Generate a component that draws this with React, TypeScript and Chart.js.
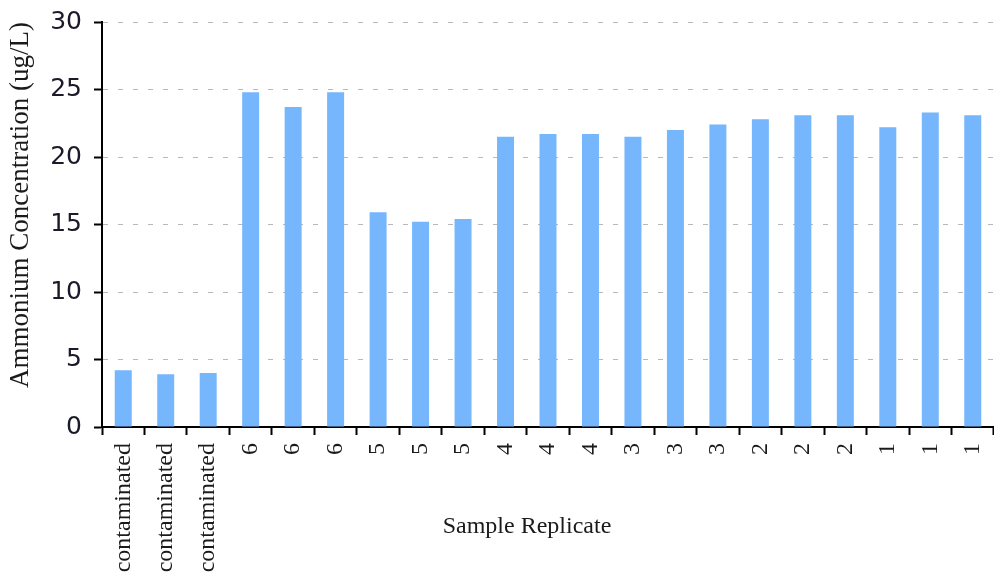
import React, { useEffect, useRef } from "react";
import { Chart, registerables } from "chart.js";

Chart.register(...registerables);

const categories = [
  "contaminated", "contaminated", "contaminated",
  "6", "6", "6",
  "5", "5", "5",
  "4", "4", "4",
  "3", "3", "3",
  "2", "2", "2",
  "1", "1", "1",
];
const ammonium = [
  4.2, 3.9, 4.0,
  24.8, 23.7, 24.8,
  15.9, 15.2, 15.4,
  21.5, 21.7, 21.7,
  21.5, 22.0, 22.4,
  22.8, 23.1, 23.1,
  22.2, 23.3, 23.1,
];
const yTitle = "Ammonium Concentration (ug/L)";
const xTitle = "Sample Replicate";

export default function App() {
  const ref = useRef<HTMLCanvasElement | null>(null);
  useEffect(() => {
    if (!ref.current) return;
    const chart = new Chart(ref.current, {
      type: "bar",
      data: {
        labels: categories,
        datasets: [
          {
            data: ammonium,
            backgroundColor: "#76b6fc",
            borderWidth: 0,
            barPercentage: 0.4,
            categoryPercentage: 1,
          },
        ],
      },
      options: {
        responsive: false,
        animation: false,
        layout: { padding: { top: 22, right: 0, left: 0, bottom: 0 } },
        plugins: { legend: { display: false }, tooltip: { enabled: false } },
        scales: {
          x: {
            grid: {
              drawOnChartArea: false,
              drawTicks: true,
              tickLength: 8,
              tickColor: "#000",
              tickWidth: 2,
              offset: true,
            },
            border: { color: "#000", width: 2 },
            ticks: {
              autoSkip: false,
              minRotation: 90,
              maxRotation: 90,
              padding: 8,
              color: "#1a1a1a",
              font: { family: "'Liberation Serif', 'Times New Roman', serif", size: 24 },
            },
            title: {
              display: true,
              text: xTitle + "       ",
              color: "#1a1a1a",
              padding: { top: 0, bottom: 33 },
              font: { family: "'Liberation Serif', 'Times New Roman', serif", size: 24 },
            },
            afterFit: (scale: any) => {
              scale.height = 147;
              scale.paddingRight = 0;
              scale.paddingLeft = 0;
            },
          },
          y: {
            min: 0,
            max: 30,
            ticks: {
              stepSize: 5,
              padding: 12,
              color: "#1a1a2a",
              font: { family: "'DejaVu Sans', Verdana, sans-serif", size: 25 },
            },
            grid: {
              color: "#b8b8b8",
              lineWidth: 1,
              tickLength: 8,
              tickColor: "#000",
              tickWidth: 2,
              tickBorderDash: [],
            },
            border: { color: "#000", width: 2, dash: [5, 10] },
            title: {
              display: true,
              text: yTitle,
              align: "end",
              color: "#1a1a1a",
              padding: { top: 5, bottom: 0 },
              font: { family: "'Liberation Serif', 'Times New Roman', serif", size: 27 },
            },
            afterFit: (scale: any) => {
              scale.width = 102;
              scale.paddingTop = 0;
              scale.paddingBottom = 0;
            },
          },
        },
      },
    });
    return () => chart.destroy();
  }, []);
  return (
    <div style={{ position: "absolute", left: 0, top: 0, width: 994, height: 574, background: "#fff" }}>
      <canvas ref={ref} width={994} height={574} style={{ display: "block" }} />
    </div>
  );
}
